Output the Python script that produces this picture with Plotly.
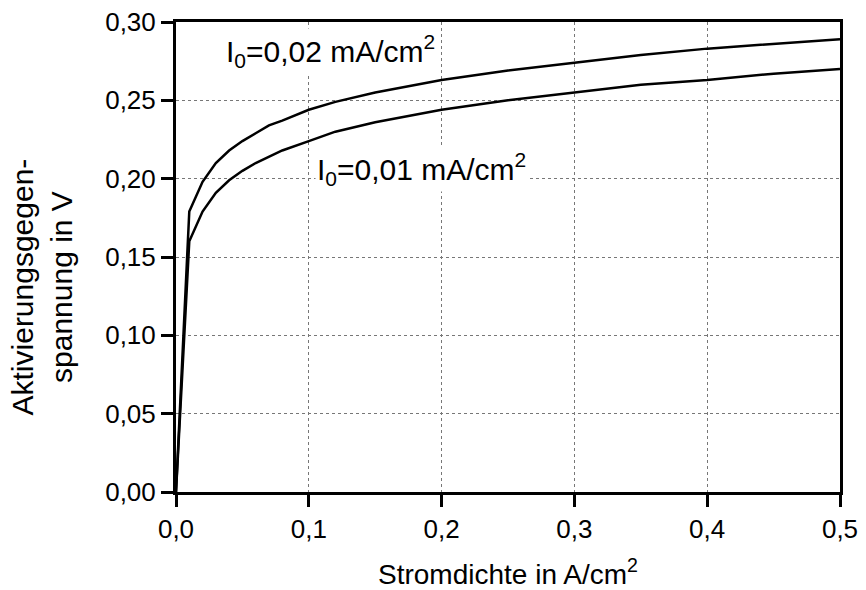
import plotly.graph_objects as go

# Current density in A/cm²
stromdichte = [0.0, 0.01, 0.02, 0.03, 0.04, 0.05, 0.06, 0.07, 0.08, 0.10, 0.12,
               0.15, 0.20, 0.25, 0.30, 0.35, 0.40, 0.45, 0.50]

# Activation overvoltage in V for both exchange current densities
spannung_002 = [0.0, 0.179, 0.198, 0.210, 0.218, 0.224, 0.229, 0.234, 0.237, 0.244,
                0.249, 0.255, 0.263, 0.269, 0.274, 0.279, 0.283, 0.286, 0.289]
spannung_001 = [0.0, 0.160, 0.179, 0.191, 0.199, 0.205, 0.210, 0.214, 0.218, 0.224,
                0.230, 0.236, 0.244, 0.250, 0.255, 0.260, 0.263, 0.267, 0.270]

x_ticks = [0.0, 0.1, 0.2, 0.3, 0.4, 0.5]
x_tick_labels = ["0,0", "0,1", "0,2", "0,3", "0,4", "0,5"]
y_ticks = [0.0, 0.05, 0.10, 0.15, 0.20, 0.25, 0.30]
y_tick_labels = ["0,00", "0,05", "0,10", "0,15", "0,20", "0,25", "0,30"]

FONT = "Liberation Sans, Arial, sans-serif"

fig = go.Figure()
for ys in (spannung_002, spannung_001):
    fig.add_trace(go.Scatter(x=stromdichte, y=ys, mode="lines",
                             line=dict(color="black", width=2.5),
                             showlegend=False))

axis_common = dict(
    showline=True, linecolor="black", linewidth=3, mirror=True,
    ticks="outside", ticklen=12, tickwidth=3, tickcolor="black",
    showgrid=True, gridcolor="#777777", griddash="dot", gridwidth=1,
    zeroline=False, automargin=False,
    tickfont=dict(family=FONT, size=26, color="black"),
)

fig.update_xaxes(range=[0, 0.5], tickvals=x_ticks, ticktext=x_tick_labels,
                 **axis_common)
fig.update_yaxes(range=[0, 0.30], tickvals=y_ticks, ticktext=y_tick_labels,
                 **axis_common)

# Axis titles
fig.add_annotation(x=0.5, y=-0.171, xref="paper", yref="paper",
                   text="Stromdichte in A/cm<sup>2</sup>",
                   showarrow=False, xanchor="center", yanchor="middle",
                   font=dict(family=FONT, size=28, color="black"))
fig.add_annotation(x=-0.202, y=0.437, xref="paper", yref="paper",
                   text="Aktivierungsgegen-<br>spannung in V", textangle=-90,
                   showarrow=False, xanchor="center", yanchor="middle",
                   font=dict(family=FONT, size=30, color="black"))

# Curve labels
label_font = dict(family=FONT, size=30, color="black")
fig.add_annotation(x=0.036, y=0.2815, xref="x", yref="y",
                   text="I<sub>0</sub>=0,02 mA/cm<sup>2</sup>",
                   showarrow=False, xanchor="left", yanchor="middle",
                   bgcolor="white", font=label_font)
fig.add_annotation(x=0.105, y=0.206, xref="x", yref="y",
                   text="I<sub>0</sub>=0,01 mA/cm<sup>2</sup>",
                   showarrow=False, xanchor="left", yanchor="middle",
                   bgcolor="white", font=label_font)

fig.update_layout(
    width=866, height=590,
    margin=dict(l=176, r=26, t=22, b=98),
    plot_bgcolor="white", paper_bgcolor="white",
)

fig.write_html("out.html")
